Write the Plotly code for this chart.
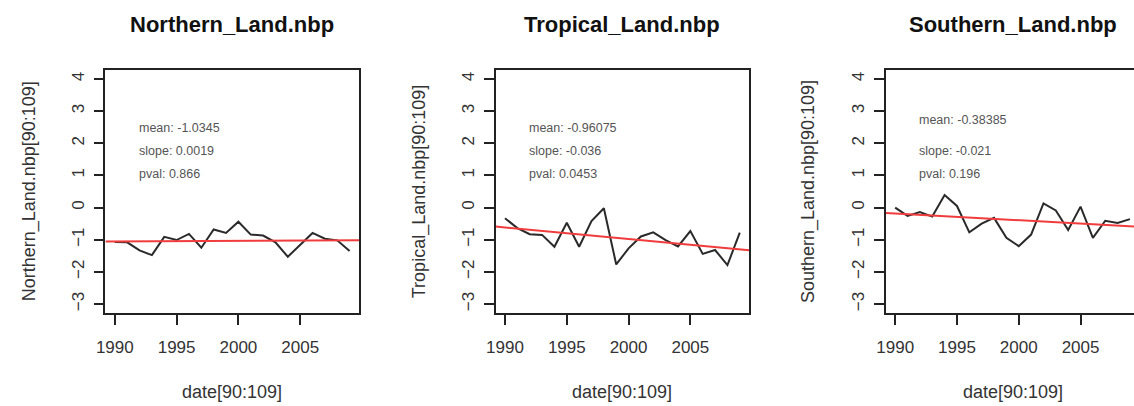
import plotly.graph_objects as go

# ---------------- data ----------------
years = list(range(1990, 2010))
northern = [-1.07, -1.08, -1.33, -1.48, -0.91, -1.01, -0.82, -1.25, -0.68, -0.79,
            -0.44, -0.84, -0.87, -1.08, -1.53, -1.16, -0.79, -0.97, -1.02, -1.35]
tropical = [-0.33, -0.64, -0.83, -0.85, -1.22, -0.47, -1.22, -0.42, -0.02, -1.77,
            -1.27, -0.90, -0.77, -1.01, -1.21, -0.73, -1.44, -1.32, -1.79, -0.78]
southern = [0.00, -0.26, -0.14, -0.28, 0.39, 0.05, -0.77, -0.50, -0.32, -0.94,
            -1.20, -0.84, 0.13, -0.09, -0.70, 0.03, -0.94, -0.41, -0.48, -0.36]
panel_titles = ["Northern_Land.nbp", "Tropical_Land.nbp", "Southern_Land.nbp"]
y_titles = ["Northern_Land.nbp[90:109]", "Tropical_Land.nbp[90:109]", "Southern_Land.nbp[90:109]"]
x_title = "date[90:109]"
mean_labels = ["-1.0345", "-0.96075", "-0.38385"]
slope_labels = ["0.0019", "-0.036", "-0.021"]
pval_labels = ["0.866", "0.0453", "0.196"]
means = [-1.0345, -0.96075, -0.38385]
slopes = [0.0019, -0.036, -0.021]
x_ticks = [1990, 1995, 2000, 2005]
y_ticks = [-3, -2, -1, 0, 1, 2, 3, 4]
series = [northern, tropical, southern]

# ---------------- layout geometry (pixels) ----------------
W, H = 1134, 406
FONT = "Liberation Sans, Arial, sans-serif"
box_left = [97.2, 490.5, 883.8]
px_per_year = 12.456
x_lo = 1989.24
x_hi = 2009.76
box_top, box_bottom = 70, 313
title_y = 25
xtitle_y = 392
ytitle_x = [21, 414, 806]
stat_x = 1991.8
stat_y = [[2.48, 1.77, 1.03], [2.48, 1.77, 1.03], [2.73, 1.77, 1.03]]


def fx(p):
    return p / W


def fy(p):
    return 1 - p / H


fig = go.Figure()
annotations = []
mean_x = sum(years) / len(years)

for i in range(3):
    sfx = "" if i == 0 else str(i + 1)
    xa, ya = "x" + sfx, "y" + sfx
    left = box_left[i]
    right_full = left + (x_hi - x_lo) * px_per_year
    right = min(right_full, W)
    x_right_val = x_lo + (right - left) / px_per_year

    fig.add_trace(go.Scatter(x=years, y=series[i], mode="lines",
                             line=dict(color="#2a2a2a", width=2),
                             xaxis=xa, yaxis=ya, showlegend=False, hoverinfo="skip"))
    reg_x = [x_lo, x_hi]
    reg_y = [means[i] + slopes[i] * (v - mean_x) for v in reg_x]
    fig.add_trace(go.Scatter(x=reg_x, y=reg_y, mode="lines",
                             line=dict(color="#f03c3c", width=2),
                             xaxis=xa, yaxis=ya, showlegend=False, hoverinfo="skip"))

    fig.update_layout({
        "xaxis" + sfx: dict(domain=[fx(left), fx(right)], range=[x_lo, x_right_val],
                            anchor=ya, tickvals=x_ticks, ticks="outside", ticklen=10,
                            tickwidth=1.5, tickcolor="#222", showline=True, linecolor="#222",
                            linewidth=1.5, mirror=True, showgrid=False, zeroline=False,
                            tickfont=dict(family=FONT, size=17, color="#333"),
                            ticklabelstandoff=8),
        "yaxis" + sfx: dict(domain=[fy(box_bottom), fy(box_top)], range=[-3.28, 4.28],
                            anchor=xa, tickvals=y_ticks, ticks="outside", ticklen=10,
                            tickwidth=1.5, tickcolor="#222", showline=True, linecolor="#222",
                            linewidth=1.5, mirror=(i < 2), showgrid=False, zeroline=False,
                            tickangle=-90,
                            tickfont=dict(family=FONT, size=17, color="#333"),
                            ticklabelstandoff=3),
    })

    center = (left + right_full) / 2
    annotations.append(dict(text="<b>" + panel_titles[i] + "</b>", x=fx(center), y=fy(title_y),
                            xref="paper", yref="paper", showarrow=False,
                            xanchor="center", yanchor="middle",
                            font=dict(family=FONT, size=22, color="#111")))
    annotations.append(dict(text=x_title, x=fx(center), y=fy(xtitle_y),
                            xref="paper", yref="paper", showarrow=False,
                            xanchor="center", yanchor="middle",
                            font=dict(family=FONT, size=18, color="#333")))
    annotations.append(dict(text=y_titles[i], x=fx(ytitle_x[i]), y=fy((box_top + box_bottom) / 2),
                            xref="paper", yref="paper", showarrow=False, textangle=-90,
                            xanchor="center", yanchor="middle",
                            font=dict(family=FONT, size=18, color="#333")))
    stats = ["mean: " + mean_labels[i], "slope: " + slope_labels[i], "pval: " + pval_labels[i]]
    for j, s in enumerate(stats):
        annotations.append(dict(text=s, x=stat_x, y=stat_y[i][j], xref=xa, yref=ya,
                                showarrow=False, xanchor="left", yanchor="middle",
                                font=dict(family=FONT, size=12.5, color="#555")))

fig.update_layout(width=W, height=H, margin=dict(l=0, r=0, t=0, b=0),
                  paper_bgcolor="white", plot_bgcolor="white",
                  annotations=annotations, showlegend=False)

fig.write_html("out.html", config={"displayModeBar": False},
               post_script="document.body.style.margin='0';document.body.style.overflow='hidden';")
